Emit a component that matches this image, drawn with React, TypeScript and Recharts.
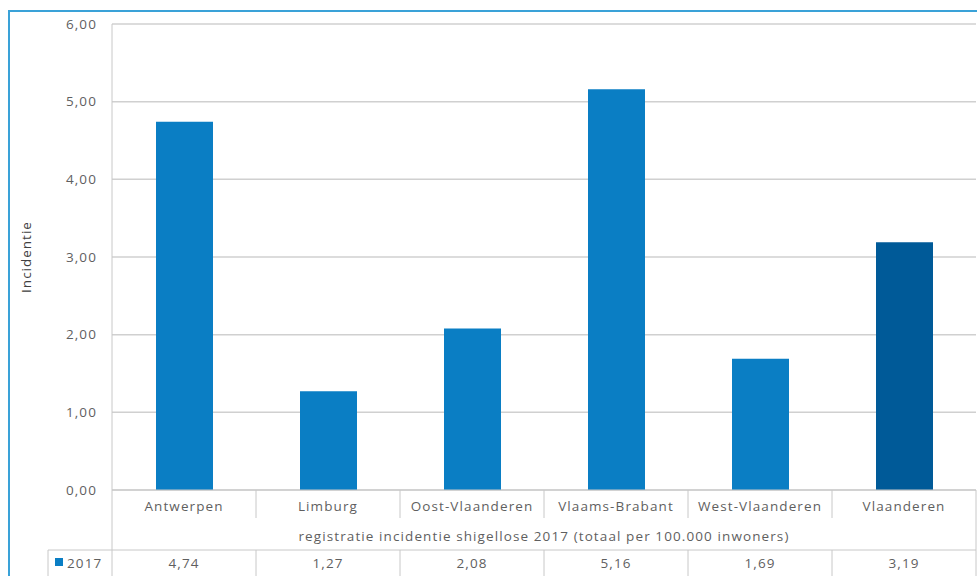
import React from 'react';
import { BarChart, Bar, XAxis, YAxis, CartesianGrid, Cell } from 'recharts';

const categories = ['Antwerpen', 'Limburg', 'Oost-Vlaanderen', 'Vlaams-Brabant', 'West-Vlaanderen', 'Vlaanderen'];
const values2017 = [4.74, 1.27, 2.08, 5.16, 1.69, 3.19];
const yTicks = [0, 1, 2, 3, 4, 5, 6];
const seriesName = '2017';
const axisTitle = 'registratie incidentie shigellose 2017 (totaal per 100.000 inwoners)';
const yTitle = 'Incidentie';

const data = categories.map((c, i) => ({ name: c, value: values2017[i] }));

const W = 977;
const H = 576;
const PLOT_LEFT = 112;
const PLOT_RIGHT = 976;
const BAND = (PLOT_RIGHT - PLOT_LEFT) / categories.length;
const TEXT = '#5f5f5f';
const LINE = '#c8c8c8';
const FONT = '"Open Sans", "Liberation Sans", sans-serif';
const FS = 13.5;
const LS = 1.1;

const fmt = (v: number) => v.toFixed(2).replace('.', ',');

const TableTick = (props: any) => {
  const { x, y, payload, index } = props;
  const left = x - BAND / 2;
  const right = x + BAND / 2;
  const n = categories.length;
  const tp = { fontSize: FS, fill: TEXT, fontFamily: FONT, letterSpacing: LS } as any;
  return (
    <g>
      <text x={x} y={y + 21} textAnchor="middle" {...tp}>
        {payload.value}
      </text>
      {index < n - 1 && <line x1={right} y1={y} x2={right} y2={y + 28} stroke={LINE} strokeWidth={1} />}
      {index < n - 1 && <line x1={right} y1={y + 60} x2={right} y2={H} stroke={LINE} strokeWidth={1} />}
      {index === n - 1 && <line x1={right} y1={y} x2={right} y2={H} stroke={LINE} strokeWidth={1} />}
      <line x1={left} y1={y + 60} x2={right} y2={y + 60} stroke={LINE} strokeWidth={1} />
      <text x={x} y={y + 78} textAnchor="middle" {...tp}>
        {fmt(values2017[index])}
      </text>
      {index === 0 && (
        <g>
          <line x1={left} y1={y} x2={left} y2={H} stroke={LINE} strokeWidth={1} />
          <line x1={left - 64} y1={y + 60} x2={left} y2={y + 60} stroke={LINE} strokeWidth={1} />
          <line x1={left - 64} y1={y + 60} x2={left - 64} y2={H} stroke={LINE} strokeWidth={1} />
          <rect x={left - 57} y={y + 68} width={8} height={8} fill="#0a7ec4" />
          <text x={left - 45} y={y + 78} {...tp}>
            {seriesName}
          </text>
          <text x={left + (PLOT_RIGHT - PLOT_LEFT) / 2} y={y + 51} textAnchor="middle" {...tp}>
            {axisTitle}
          </text>
        </g>
      )}
    </g>
  );
};

export default function App() {
  return (
    <div style={{ position: 'absolute', left: 0, top: 0, width: W, height: H, background: '#fff', overflow: 'hidden' }}>
      <div style={{ position: 'absolute', left: 8, top: 10, width: W, height: H, borderLeft: '2px solid #3aa2d8', borderTop: '2px solid #3aa2d8', boxSizing: 'border-box' }} />
      <div style={{ position: 'absolute', left: 0, top: 0 }}>
        <BarChart width={W} height={H} data={data} margin={{ top: 24, right: W - PLOT_RIGHT, bottom: 0, left: 12 }}>
          <CartesianGrid horizontal={true} vertical={false} stroke="#d0d0d0" strokeWidth={1.5} />
          <YAxis
            width={PLOT_LEFT - 12}
            domain={[0, 6]}
            ticks={yTicks}
            tickFormatter={fmt}
            tickLine={false}
            axisLine={{ stroke: LINE }}
            tickSize={6}
            tickMargin={9}
            tick={{ fontSize: FS, fill: TEXT, fontFamily: FONT, letterSpacing: LS } as any}
            label={{ value: yTitle, angle: -90, position: 'insideLeft', offset: 14, style: { fontSize: FS, fill: '#404040', fontFamily: FONT, textAnchor: 'middle', letterSpacing: 1 } }}
          />
          <XAxis
            dataKey="name"
            height={86}
            interval={0}
            tickLine={false}
            tickSize={0}
            tickMargin={0}
            axisLine={{ stroke: LINE }}
            tick={<TableTick />}
          />
          <Bar dataKey="value" barSize={57} isAnimationActive={false}>
            {data.map((d) => (
              <Cell key={d.name} fill={d.name === 'Vlaanderen' ? '#005a98' : '#0a7ec4'} />
            ))}
          </Bar>
        </BarChart>
      </div>
    </div>
  );
}
